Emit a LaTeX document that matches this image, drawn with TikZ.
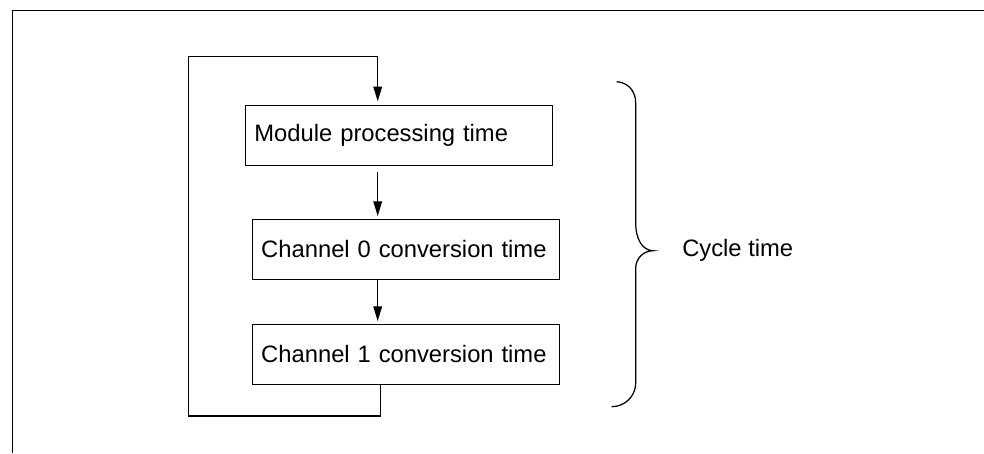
\documentclass[tikz,border=0pt]{standalone}
\usepackage{fontspec}
\setmainfont{Liberation Sans}
\usetikzlibrary{positioning, arrows.meta, calc}

\begin{document}
\begin{tikzpicture}[x=0.025cm, y=-0.025cm]
	% 定义样式
	\tikzset{
		timebox/.style={
			draw, line width=0.9pt,
			minimum height=42.7pt,
			text width=205.6pt, inner xsep=6.4pt,
			align=left,
			font=\fontsize{16.9pt}{20pt}\selectfont
		},
		flow/.style={
			line width=0.9pt,
			-{Triangle[length=10.5pt, width=6.2pt]}
		}
	}
	\useasboundingbox (0,0) rectangle (984,453);
	
	% 外框
	\draw[line width=1.1pt] (984,10.5) -- (12.5,10.5) -- (12.5,453);
	
	% 三个方框
	\foreach \name/\x/\y/\txt in {mod/399/135.3/Module processing time,
		ch0/405.8/249.2/Channel 0 conversion time,
		ch1/405.8/354.3/Channel 1 conversion time} {
		\node[timebox] (\name) at (\x,\y) {\txt};
	}
	
	% 箭头
	\coordinate (tap) at (377.7,0);
	\coordinate (ret) at (380.3,0);
	\coordinate (loopbl) at (188.5,416);
	\coordinate (looptl) at (188.5,56.7);
	\draw[flow, shorten >=2.4pt] (ret |- ch1.south) -- (ret |- loopbl) -- (loopbl) -- (looptl) -- (tap |- looptl) -- (tap |- mod.north);
	\draw[flow, shorten <=4.5pt, shorten >=1.8pt] (tap |- mod.south) -- (tap |- ch0.north);
	\draw[flow, shorten >=1.8pt] (tap |- ch0.south) -- (tap |- ch1.north);
	
	% 花括号
	\draw[line width=0.9pt] (616.7,81.7) .. controls (628,82.5) and (635.7,91) .. (635.7,103)
		-- (635.7,223) .. controls (635.7,240) and (643,250.7) .. (653.3,250.7)
		.. controls (643,250.7) and (635.7,259) .. (635.7,268)
		-- (635.7,383) .. controls (635.7,396) and (625,406.7) .. (611.7,406.7);
	\node[anchor=west, inner sep=0pt, font=\fontsize{16.9pt}{20pt}\selectfont] (cycle) at (682,250) {Cycle time};
\end{tikzpicture}
\end{document}
